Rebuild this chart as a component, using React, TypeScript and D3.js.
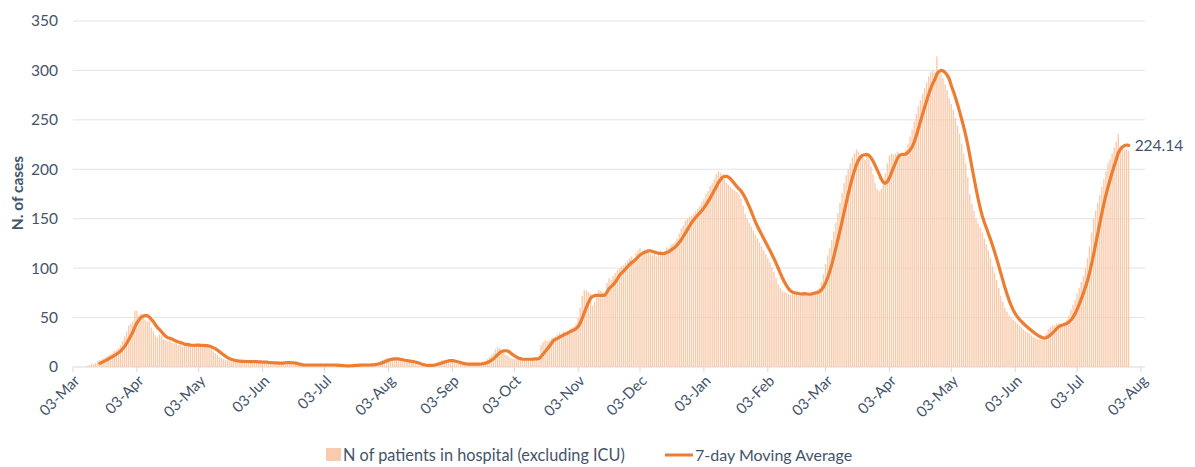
import React from 'react';
import * as d3 from 'd3';

// daily number of patients in hospital (excluding ICU), first value on 10-Mar-2020
const firstDay = new Date(2020, 2, 10);
const inHospital = [
  1, 2, 3, 3, 4, 6, 7,
  8, 9, 10, 11, 13, 14, 16,
  17, 19, 22, 26, 31, 36, 42,
  44, 46, 57, 57, 52, 54, 50,
  48, 46, 47, 40, 36, 32, 30,
  33, 31, 28, 27, 26, 29, 25,
  24, 25, 22, 23, 21, 22, 23,
  22, 22, 21, 22, 23, 22, 21,
  22, 21, 20, 19, 18, 16, 14,
  12, 10, 9, 8, 7, 7, 6,
  6, 6, 6, 5, 6, 5, 6,
  5, 6, 5, 5, 6, 5, 5,
  5, 4, 5, 4, 4, 4, 4,
  4, 4, 3, 4, 5, 6, 5,
  4, 3, 2, 2, 2, 2, 2,
  2, 2, 2, 2, 2, 2, 2,
  2, 2, 2, 2, 2, 2, 2,
  2, 2, 1, 1, 1, 1, 1,
  1, 2, 2, 2, 2, 2, 2,
  2, 2, 2, 2, 2, 3, 3,
  4, 5, 6, 7, 8, 9, 9,
  9, 8, 8, 7, 7, 6, 6,
  6, 6, 5, 5, 4, 3, 2,
  1, 1, 1, 2, 2, 2, 2,
  3, 4, 5, 6, 7, 7, 7,
  7, 6, 5, 4, 3, 3, 3,
  3, 3, 3, 3, 3, 3, 3,
  3, 3, 4, 5, 6, 8, 10,
  12, 14, 18, 20, 19, 17, 15,
  12, 11, 9, 8, 8, 8, 8,
  7, 8, 8, 8, 8, 8, 8,
  9, 9, 10, 22, 25, 27, 26,
  27, 29, 30, 31, 33, 35, 34,
  36, 35, 37, 39, 40, 41, 44,
  50, 60, 72, 78, 77, 76, 74,
  62, 66, 74, 78, 77, 76, 75,
  85, 90, 88, 92, 95, 98, 100,
  102, 103, 105, 108, 110, 112, 110,
  115, 118, 120, 117, 119, 116, 118,
  115, 113, 116, 112, 115, 117, 114,
  117, 121, 120, 124, 125, 127, 130,
  135, 140, 143, 148, 150, 152, 153,
  155, 158, 160, 163, 167, 170, 175,
  178, 183, 186, 190, 195, 198, 196,
  195, 190, 186, 184, 182, 180, 178,
  177, 175, 170, 163, 155, 150, 146,
  142, 138, 134, 130, 126, 122, 118,
  114, 110, 106, 101, 96, 90, 84,
  80, 77, 76, 75, 74, 73, 75,
  76, 74, 72, 73, 75, 74, 73,
  74, 75, 76, 77, 78, 80, 86,
  94, 104, 113, 120, 128, 137, 146,
  156, 166, 176, 186, 194, 200, 206,
  212, 216, 220, 218, 215, 212, 210,
  214, 210, 203, 195, 186, 180, 178,
  180, 186, 196, 206, 214, 216, 215,
  216, 218, 214, 212, 214, 220, 226,
  233, 240, 248, 256, 264, 270, 276,
  282, 288, 294, 298, 300, 298, 314,
  300, 296, 292, 286, 280, 272, 266,
  260, 252, 244, 236, 226, 216, 206,
  192, 175, 165, 158, 150, 145, 141,
  136, 130, 124, 118, 110, 102, 95,
  88, 80, 72, 66, 60, 56, 52,
  50, 48, 46, 44, 42, 40, 38,
  36, 35, 34, 32, 30, 29, 28,
  28, 28, 30, 34, 38, 40, 42,
  42, 44, 44, 43, 42, 45, 48,
  52, 58, 63, 68, 74, 80, 86,
  92, 100, 110, 122, 136, 150, 158,
  166, 174, 182, 190, 198, 206, 210,
  216, 222, 228, 236, 224, 222, 220,
  220, 219,
];

const yTicks = [0, 50, 100, 150, 200, 250, 300, 350];
const axisStart = new Date(2020, 2, 3);
const axisEnd = new Date(2021, 7, 3);

const barColor = '#F8CBAD';
const lineColor = '#ED7D31';
const textColor = '#44546A';
const font = 'Lato, "Open Sans", sans-serif';

function App() {
  const width = 1195,
    height = 467;

  const x = d3.scaleTime().domain([axisStart, axisEnd]).range([73, 1141]);
  const y = d3.scaleLinear().domain([0, 350]).range([367, 21]);

  const bars = inHospital.map((v, i) => ({ date: d3.timeDay.offset(firstDay, i), value: v }));

  // 7-day trailing moving average
  const avg = bars
    .map((b, i) => {
      if (i < 6) return null;
      return { date: b.date, value: d3.mean(inHospital.slice(i - 6, i + 1)) as number };
    })
    .filter((d) => d !== null) as { date: Date; value: number }[];

  const line = d3
    .line<{ date: Date; value: number }>()
    .x((d) => x(d.date))
    .y((d) => y(d.value));

  const last = avg[avg.length - 1];
  // ticks on the 3rd of every month
  const monthTicks = d3
    .timeMonth.range(d3.timeMonth.floor(axisStart), d3.timeDay.offset(axisEnd, 1))
    .map((m) => d3.timeDay.offset(m, 2));
  const fmt = d3.timeFormat('%d-%b');
  const bw = 1.4;

  return (
    <svg width={width} height={height} style={{ position: 'absolute', left: 0, top: 0, fontFamily: font }}>
      {/* gridlines */}
      {yTicks.map((t) => (
        <g key={t}>
          <line x1={73} x2={1145} y1={y(t)} y2={y(t)} stroke={t === 0 ? '#D9D9D9' : '#E3E3E8'} strokeWidth={1} />
          <text x={58} y={y(t)} dy="0.35em" textAnchor="end" fontSize={15.5} fill={textColor}>
            {t}
          </text>
        </g>
      ))}

      {/* x ticks */}
      {monthTicks.map((t, i) => (
        <g key={i}>
          <line x1={x(t)} x2={x(t)} y1={367} y2={372} stroke="#D9D9D9" />
          <text
            transform={`translate(${x(t) + 4},${378}) rotate(-45)`}
            dy="0.35em"
            textAnchor="end"
            fontSize={15}
            fill={textColor}
          >
            {fmt(t)}
          </text>
        </g>
      ))}

      {/* bars */}
      {bars.map((b, i) => (
        <rect key={i} x={x(b.date) - bw / 2} y={y(b.value)} width={bw} height={y(0) - y(b.value)} fill={barColor} />
      ))}

      {/* moving average */}
      <path d={line(avg) as string} fill="none" stroke={lineColor} strokeWidth={3.2} strokeLinejoin="round" strokeLinecap="round" />
      <text x={x(last.date) + 6} y={y(last.value)} dy="0.35em" fontSize={15.5} fill={textColor}>
        {last.value.toFixed(2)}
      </text>

      {/* axis title */}
      <text transform={`translate(18,193) rotate(-90)`} textAnchor="middle" dy="0.35em" fontSize={15.5} fontWeight="bold" fill={textColor}>
        N. of cases
      </text>

      {/* legend */}
      <rect x={326} y={448} width={15} height={13} fill={barColor} />
      <text x={343} y={455} dy="0.35em" fontSize={16.3} fill={textColor}>
        N of patients in hospital (excluding ICU)
      </text>
      <line x1={665} x2={693} y1={455} y2={455} stroke={lineColor} strokeWidth={3} />
      <text x={695} y={455} dy="0.35em" fontSize={16} fill={textColor}>
        7-day Moving Average
      </text>
    </svg>
  );
}

export default App;
